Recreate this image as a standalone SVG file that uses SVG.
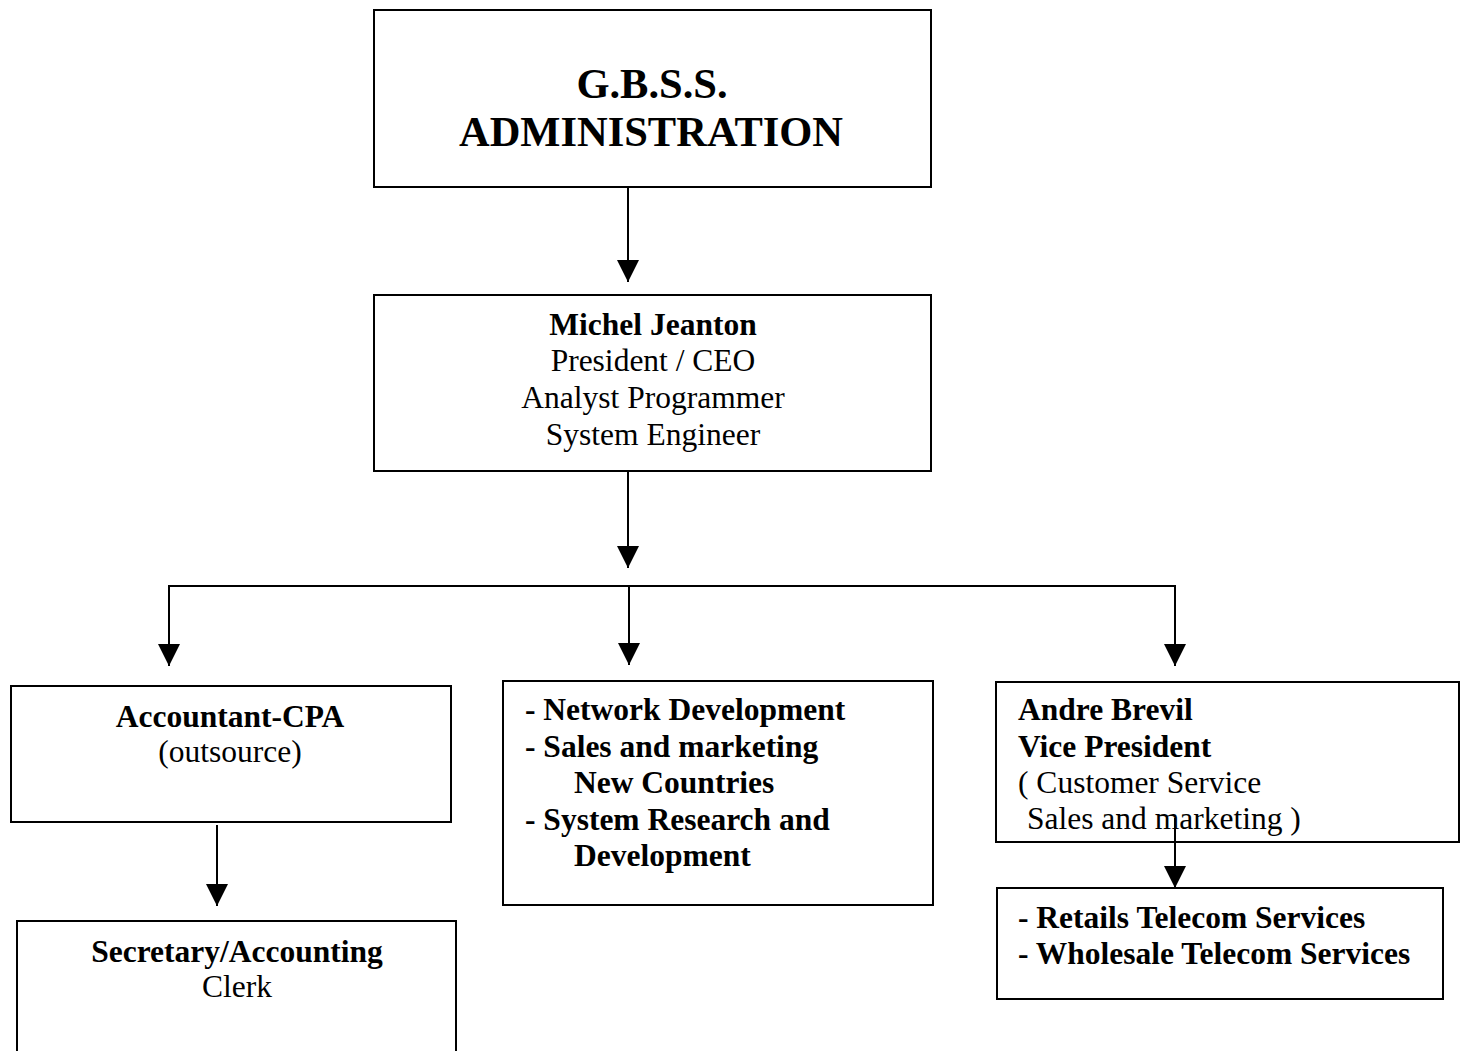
<svg xmlns="http://www.w3.org/2000/svg" width="1464" height="1051" viewBox="0 0 1464 1051">
<style>
.box{fill:#fff;stroke:#000;stroke-width:2}
.t{font-family:"Liberation Serif","Times New Roman",serif;font-size:31.5px;fill:#000}
.h{font-size:42.5px}
.b{font-weight:bold}
.c{text-anchor:middle}
.ln{stroke:#000;stroke-width:2;fill:none}
</style>
<defs>
<marker id="ah" viewBox="0 0 22 22" refX="22" refY="11" markerWidth="22" markerHeight="22" markerUnits="userSpaceOnUse" orient="auto">
<path d="M0,0 L22,11 L0,22 z" fill="#000"/>
</marker>
</defs>
<rect width="1464" height="1051" fill="#fff"/>
<g id="connectors">
<line class="ln" x1="628" y1="187" x2="628" y2="282" marker-end="url(#ah)"/>
<line class="ln" x1="628" y1="471" x2="628" y2="568" marker-end="url(#ah)"/>
<polyline class="ln" points="169,666 169,586 1175,586 1175,666" marker-end="url(#ah)"/>
<line class="ln" x1="629" y1="586" x2="629" y2="665" marker-end="url(#ah)"/>
<line class="ln" x1="169" y1="586" x2="169" y2="666" marker-end="url(#ah)"/>
<line class="ln" x1="217" y1="825" x2="217" y2="906" marker-end="url(#ah)"/>
</g>
<g id="admin">
<rect class="box" x="374" y="10" width="557" height="177"/>
<text class="t h b c" x="652" y="98">G.B.S.S.</text>
<text class="t h b c" x="651" y="146">ADMINISTRATION</text>
</g>
<g id="ceo">
<rect class="box" x="374" y="295" width="557" height="176"/>
<text class="t b c" x="653" y="335">Michel Jeanton</text>
<text class="t c" x="653" y="371">President / CEO</text>
<text class="t c" x="653" y="408">Analyst Programmer</text>
<text class="t c" x="653" y="445">System Engineer</text>
</g>
<g id="accountant">
<rect class="box" x="11" y="686" width="440" height="136"/>
<text class="t b c" x="230" y="727">Accountant-CPA</text>
<text class="t c" x="230" y="762">(outsource)</text>
</g>
<g id="secretary">
<rect class="box" x="17" y="921" width="439" height="140"/>
<text class="t b c" x="237" y="962">Secretary/Accounting</text>
<text class="t c" x="237" y="997">Clerk</text>
</g>
<g id="development">
<rect class="box" x="503" y="681" width="430" height="224"/>
<text class="t b" x="525" y="720">- Network Development</text>
<text class="t b" x="525" y="757">- Sales and marketing</text>
<text class="t b" x="574" y="793">New Countries</text>
<text class="t b" x="525" y="830">- System Research and</text>
<text class="t b" x="574" y="866">Development</text>
</g>
<g id="vicepresident">
<rect class="box" x="996" y="682" width="463" height="160"/>
<text class="t b" x="1018" y="720">Andre Brevil</text>
<text class="t b" x="1018" y="757">Vice President</text>
<text class="t" x="1018" y="793">( Customer Service</text>
<text class="t" x="1027" y="829">Sales and marketing )</text>
</g>
<g id="telecom">
<rect class="box" x="997" y="888" width="446" height="111"/>
<text class="t b" x="1018" y="928">- Retails Telecom Services</text>
<text class="t b" x="1018" y="964">- Wholesale Telecom Services</text>
</g>
<g id="connectors2">
<line class="ln" x1="1175" y1="818" x2="1175" y2="888" marker-end="url(#ah)"/>
</g>
</svg>
